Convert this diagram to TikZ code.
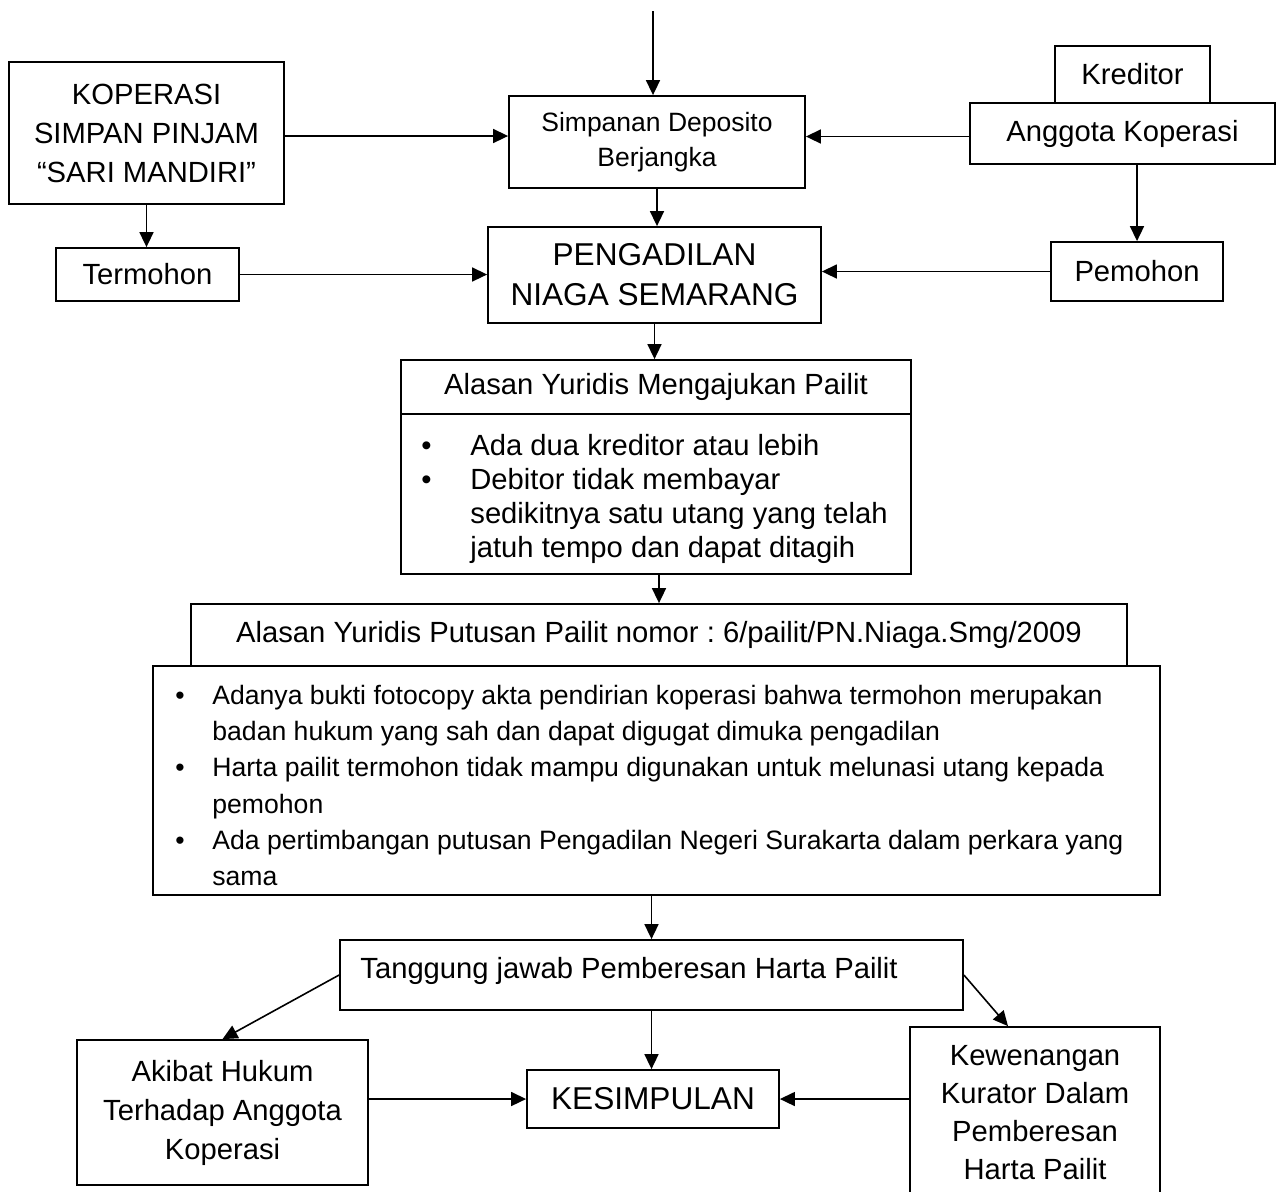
\documentclass[tikz,border=0pt]{standalone}
\usepackage{fontspec}
\setmainfont{Liberation Sans}
\usetikzlibrary{arrows.meta}
\frenchspacing
\newcommand\mainfnt{\fontsize{14.6}{19.5}\selectfont}
\newcommand\smallfnt{\fontsize{13.25}{17.5}\selectfont}
\newcommand\bigfnt{\fontsize{15.8}{20}\selectfont}
\newcommand\listfnt{\fontsize{14.6}{17}\selectfont}
\newcommand\bodyfnt{\fontsize{13.3}{18.1}\selectfont}
\tikzset{
  box/.style={draw, line width=0.9pt, rectangle, inner sep=0pt, align=center, font=\mainfnt},
  arr/.style={line width=0.8pt, -{Triangle[length=7.5pt,width=7pt]}},
  txt/.style={inner sep=0pt},
}
\begin{document}
\begin{tikzpicture}[x=0.5pt,y=-0.5pt]
\useasboundingbox (0,0) rectangle (1277,1191);
\clip (0,0) rectangle (1277,1191);

% boxes
\node[box, minimum width=137.5pt, minimum height=71pt] (kop) at (146.5,133) {KOPERASI\\SIMPAN PINJAM\\“SARI MANDIRI”};
\node[box, minimum width=148pt, minimum height=46pt, font=\smallfnt] (simp) at (657,142) {Simpanan Deposito\\Berjangka};
\node[box, minimum width=77.5pt, minimum height=28.5pt] (kred) at (1132.5,74.5) {Kreditor};
\node[box, minimum width=152.5pt, minimum height=30.5pt] (angg) at (1122.5,133.5) {Anggota Koperasi};
\node[box, minimum width=91.5pt, minimum height=26.5pt] (term) at (147.5,274.5) {Termohon};
\node[box, minimum width=166.5pt, minimum height=48pt, font=\bigfnt] (peng) at (654.5,275) {PENGADILAN\\NIAGA SEMARANG};
\node[box, minimum width=86pt, minimum height=29.5pt] (pem) at (1137,271.5) {Pemohon};

\node[box, minimum width=255pt, minimum height=27pt] (al1h) at (656,387) {Alasan Yuridis Mengajukan Pailit};
\node[box, minimum width=255pt, minimum height=80pt] (al1b) at (656,494) {};
\node[txt, anchor=base west, font=\listfnt] (al1text) at (421,455)
  {\begin{tabular}[t]{@{}p{24.5pt}@{}l@{}}
   \textbullet & Ada dua kreditor atau lebih\\
   \textbullet & Debitor tidak membayar\\
   & sedikitnya satu utang yang telah\\
   & jatuh tempo dan dapat ditagih
   \end{tabular}};

\node[box, minimum width=468pt, minimum height=31pt] (puth) at (659,635) {Alasan Yuridis Putusan Pailit nomor : 6/pailit/PN.Niaga.Smg/2009};
\node[box, minimum width=503.5pt, minimum height=114.5pt] (big) at (656.5,780.5) {};
\node[txt, anchor=base west, font=\bodyfnt] (bigtext) at (175,704.5)
  {\begin{tabular}[t]{@{}p{18.5pt}@{}l@{}}
   \textbullet & Adanya bukti fotocopy akta pendirian koperasi bahwa termohon merupakan\\
   & badan hukum yang sah dan dapat digugat dimuka pengadilan\\
   \textbullet & Harta pailit termohon tidak mampu digunakan untuk melunasi utang kepada\\
   & pemohon\\
   \textbullet & Ada pertimbangan putusan Pengadilan Negeri Surakarta dalam perkara yang\\
   & sama
   \end{tabular}};

\node[box, minimum width=311.5pt, minimum height=35pt] (tang) at (651.5,975) {};
\node[txt, anchor=base west, font=\mainfnt] (tangtext) at (360,978.5) {Tanggung jawab Pemberesan Harta Pailit};

\node[box, minimum width=145.5pt, minimum height=72.5pt] (akibat) at (222.5,1112.5) {Akibat Hukum\\Terhadap Anggota\\Koperasi};
\node[box, minimum width=126pt, minimum height=29pt, font=\bigfnt] (kes) at (653,1099) {KESIMPULAN};
\node[box, minimum width=125pt, minimum height=86pt, font=\fontsize{14.6}{19}\selectfont] (kew) at (1035,1113) {Kewenangan\\Kurator Dalam\\Pemberesan\\Harta Pailit};

% connectors
\coordinate (topin) at (653,11);
\draw[arr] (topin) -- (topin |- simp.north);
\draw[arr] ([yshift=-1.5pt]kop.east) -- ([yshift=-1.5pt]kop.east -| simp.west);
\draw[arr] ([yshift=-1.5pt]angg.west) -- ([yshift=-1.5pt]angg.west -| simp.east);
\draw[arr] (kop.south) -- (kop.south |- term.north);
\draw[arr] (simp.south) -- (simp.south |- peng.north);
\draw[arr] (term.east) -- (term.east -| peng.west);
\draw[arr] (pem.north |- angg.south) -- (pem.north);
\draw[arr] (pem.west) -- (pem.west -| peng.east);
\draw[arr] (peng.south) -- (peng.south |- al1h.north);
\draw[arr] ([xshift=1.5pt]al1b.south) -- ([xshift=1.5pt]al1b.south |- puth.north);
\draw[arr] (tang.north |- big.south) -- (tang.north);
\draw[arr] (tang.west) -- (akibat.north);
\draw[arr] (tang.east) -- ([xshift=-13.5pt]kew.north);
\draw[arr] (tang.south) -- (tang.south |- kes.north);
\draw[arr] (akibat.east |- kes.west) -- (kes.west);
\draw[arr] (kew.west |- kes.east) -- (kes.east);
\end{tikzpicture}
\end{document}
